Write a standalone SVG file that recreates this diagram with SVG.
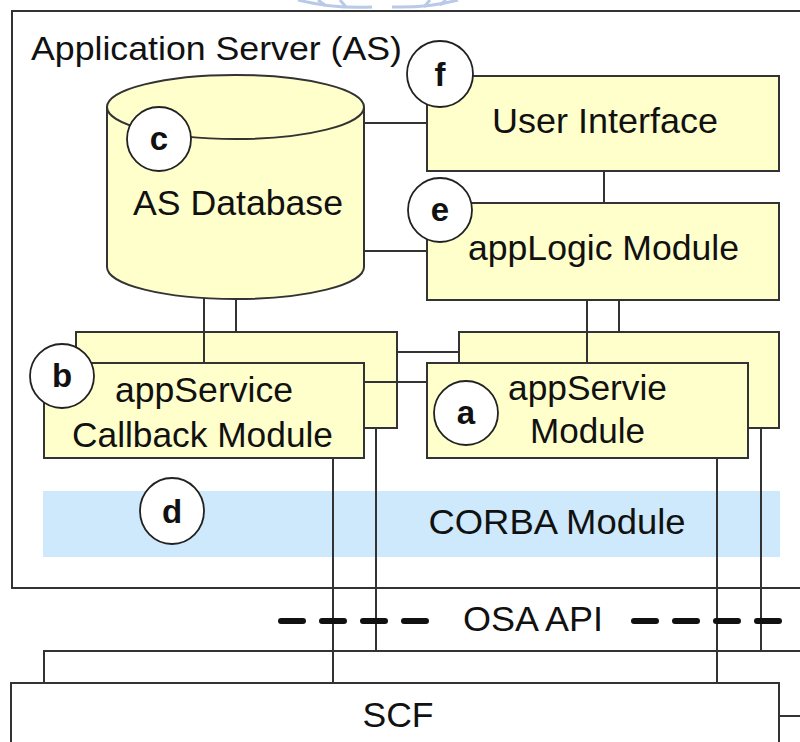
<svg xmlns="http://www.w3.org/2000/svg" width="800" height="742" viewBox="0 0 800 742">
  <style>
    text { font-family: "Liberation Sans", Arial, sans-serif; fill: #111; }
    .lbl { font-size: 35px; text-anchor: middle; }
    .tag { font-size: 33px; font-weight: bold; text-anchor: middle; }
    .box { fill: #ffffcc; stroke: #333; stroke-width: 2; }
    .frame { fill: none; stroke: #333; stroke-width: 2; }
    .badge { fill: #fff; stroke: #222; stroke-width: 1.8; }
    .wire { stroke: #333; stroke-width: 2; fill: none; }
    .dash { stroke: #111; stroke-width: 6; stroke-linecap: round; stroke-dasharray: 22 19; }
  </style>

  <rect width="800" height="742" fill="#fff"/>

  <!-- faint emblem at top edge -->
  <g id="emblem" fill="none" stroke="#b9c9e8" stroke-width="3">
    <path d="M298,0 Q335,9 372,7"/>
    <path d="M392,7 Q428,8 458,0"/>
    <path d="M318,0 L326,6 M340,0 L346,7 M430,0 L424,7 M446,0 L440,5"/>
  </g>

  <!-- Application Server frame -->
  <g id="as-frame">
    <rect class="frame" x="12" y="11" width="800" height="577"/>
    <text x="31" y="60" style="font-size:33px" textLength="371" lengthAdjust="spacingAndGlyphs">Application Server (AS)</text>
  </g>

  <!-- CORBA band -->
  <g id="corba">
    <rect x="43" y="491" width="737" height="66" fill="#cde9fb"/>
    <text class="lbl" x="557" y="534" textLength="257" lengthAdjust="spacingAndGlyphs">CORBA Module</text>
  </g>

  <!-- SCF -->
  <g id="scf">
    <rect class="frame" x="11" y="683" width="768" height="80" fill="#fff"/>
    <text class="lbl" x="398" y="727" textLength="71" lengthAdjust="spacingAndGlyphs">SCF</text>
  </g>

  <!-- AS Database -->
  <g id="database">
    <path class="box" d="M107,107 L107,267 A128.5,32 0 0 0 364,267 L364,107 A128.5,32 0 0 0 107,107 Z"/>
    <path class="wire" d="M107,107 A128.5,32 0 0 0 364,107"/>
    <text class="lbl" x="238" y="215" textLength="210" lengthAdjust="spacingAndGlyphs">AS Database</text>
  </g>

  <!-- User Interface -->
  <g id="user-interface">
    <rect class="box" x="427" y="76" width="352" height="95"/>
    <text class="lbl" x="605" y="133" textLength="226" lengthAdjust="spacingAndGlyphs">User Interface</text>
  </g>

  <!-- appLogic Module -->
  <g id="applogic">
    <rect class="box" x="427" y="203" width="352" height="97"/>
    <text class="lbl" x="603.5" y="260" textLength="271" lengthAdjust="spacingAndGlyphs">appLogic Module</text>
  </g>

  <!-- appService Callback Module (stacked) -->
  <g id="callback">
    <rect class="box" x="76" y="332" width="321" height="96"/>
    <rect class="box" x="44" y="363" width="320" height="95"/>
    <text class="lbl" x="204" y="402" textLength="178" lengthAdjust="spacingAndGlyphs">appService</text>
    <text class="lbl" x="202.5" y="447" textLength="261" lengthAdjust="spacingAndGlyphs">Callback Module</text>
  </g>

  <!-- appServie Module (stacked) -->
  <g id="appservice">
    <rect class="box" x="459" y="332" width="320" height="96"/>
    <rect class="box" x="427" y="363" width="321" height="95"/>
    <text class="lbl" x="587.5" y="400" textLength="159" lengthAdjust="spacingAndGlyphs">appServie</text>
    <text class="lbl" x="587.5" y="443" textLength="115" lengthAdjust="spacingAndGlyphs">Module</text>
  </g>

  <!-- connectors -->
  <g id="connectors" class="wire">
    <line x1="364" y1="123" x2="427" y2="123"/>
    <line x1="364" y1="251" x2="427" y2="251"/>
    <line x1="604" y1="171" x2="604" y2="203"/>
    <line x1="204" y1="298" x2="204" y2="363"/>
    <line x1="236" y1="299" x2="236" y2="332"/>
    <line x1="587" y1="300" x2="587" y2="363"/>
    <line x1="619" y1="300" x2="619" y2="332"/>
    <line x1="397" y1="352" x2="459" y2="352"/>
    <line x1="364" y1="382" x2="427" y2="382"/>
    <line x1="333" y1="458" x2="333" y2="683"/>
    <line x1="376" y1="428" x2="376" y2="651"/>
    <line x1="717" y1="458" x2="717" y2="683"/>
    <line x1="761" y1="428" x2="761" y2="651"/>
    <polyline points="44,683 44,651 800,651"/>
    <line x1="779" y1="716" x2="800" y2="716"/>
  </g>

  <!-- OSA API boundary -->
  <g id="osa-api">
    <line class="dash" x1="281" y1="621" x2="426" y2="621"/>
    <line class="dash" x1="634" y1="621" x2="779" y2="621"/>
    <text class="lbl" x="533" y="631" textLength="140" lengthAdjust="spacingAndGlyphs">OSA API</text>
  </g>

  <!-- letter badges -->
  <g id="badge-a"><circle class="badge" cx="466" cy="413" r="32"/><text class="tag" x="466" y="424">a</text></g>
  <g id="badge-b"><circle class="badge" cx="62" cy="376" r="32"/><text class="tag" x="62" y="387">b</text></g>
  <g id="badge-c"><circle class="badge" cx="159" cy="139" r="32"/><text class="tag" x="159" y="150">c</text></g>
  <g id="badge-d"><ellipse class="badge" cx="172" cy="511" rx="32" ry="33"/><text class="tag" x="172" y="523">d</text></g>
  <g id="badge-e"><circle class="badge" cx="440" cy="210" r="32"/><text class="tag" x="440" y="221">e</text></g>
  <g id="badge-f"><circle class="badge" cx="440" cy="74" r="33"/><text class="tag" x="440" y="86">f</text></g>
</svg>
